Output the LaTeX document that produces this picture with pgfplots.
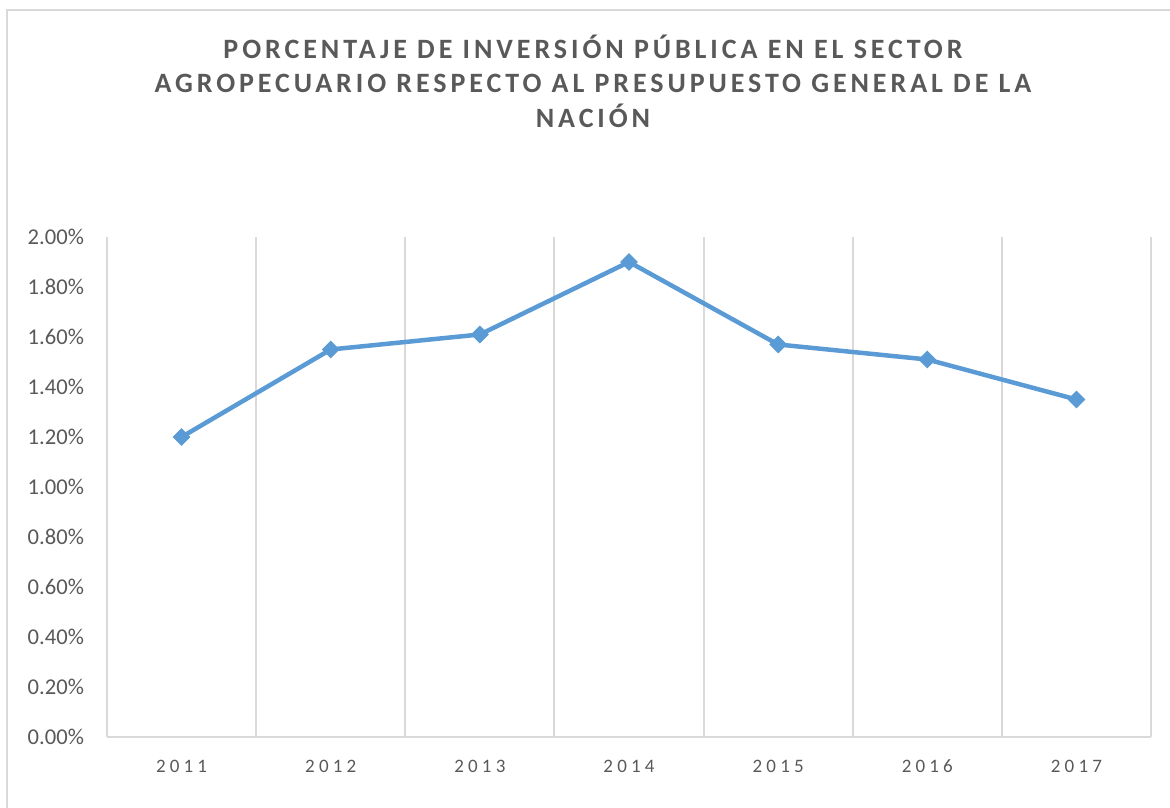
\documentclass[border=0pt]{standalone}
\usepackage{fontspec}
\setmainfont{Carlito}
\usepackage{pgfplots}
\pgfplotsset{compat=1.18}
\definecolor{linec}{HTML}{5B9BD5}
\definecolor{gridc}{HTML}{D9D9D9}
\definecolor{txt}{HTML}{595959}
\begin{document}
\begin{tikzpicture}
\useasboundingbox (0pt,0pt) rectangle (585pt,403.5pt);
\draw[gridc, line width=0.75pt] (3.5pt,-20pt) -- (3.5pt,398.5pt) -- (600pt,398.5pt);
\node[align=center, text=txt, font=\bfseries\fontsize{14}{17.2}\selectfont\addfontfeature{LetterSpace=14}] at (296.5pt,363pt)
{PORCENTAJE DE INVERSIÓN PÚBLICA EN EL SECTOR\\AGROPECUARIO RESPECTO AL PRESUPUESTO GENERAL DE LA\\NACIÓN};
\begin{axis}[
  at={(53.5pt,35pt)}, anchor=south west,
  scale only axis, width=522pt, height=250pt,
  xmin=-0.5, xmax=6.5, ymin=0, ymax=2,
  xtick={0,...,6},
  xticklabels={2011,2012,2013,2014,2015,2016,2017},
  minor xtick={-0.5,0.5,...,6.5},
  minor x grid style={gridc, line width=1pt},
  xminorgrids=true,
  ytick={0,0.2,...,2.01},
  yticklabel={\pgfmathprintnumber[fixed,fixed zerofill,precision=2]{\tick}\%},
  /pgf/number format/assume math mode=true,
  axis x line*=bottom,
  axis y line*=left,
  x axis line style={gridc, line width=1pt, -},
  y axis line style={draw=none},
  tick style={draw=none},
  y tick label style={font=\fontsize{11.3}{12}\selectfont, text=txt, xshift=-8pt},
  x tick label style={font=\fontsize{9.5}{11}\selectfont\addfontfeature{LetterSpace=22}, text=txt, yshift=-8pt},
]
\addplot[linec, line width=2.25pt, mark=square*, mark size=2.9pt, mark options={rotate=45, fill=linec, draw=linec, line width=0.5pt}]
coordinates {(0,1.20) (1,1.55) (2,1.61) (3,1.90) (4,1.57) (5,1.51) (6,1.35)};
\end{axis}
\end{tikzpicture}
\end{document}
